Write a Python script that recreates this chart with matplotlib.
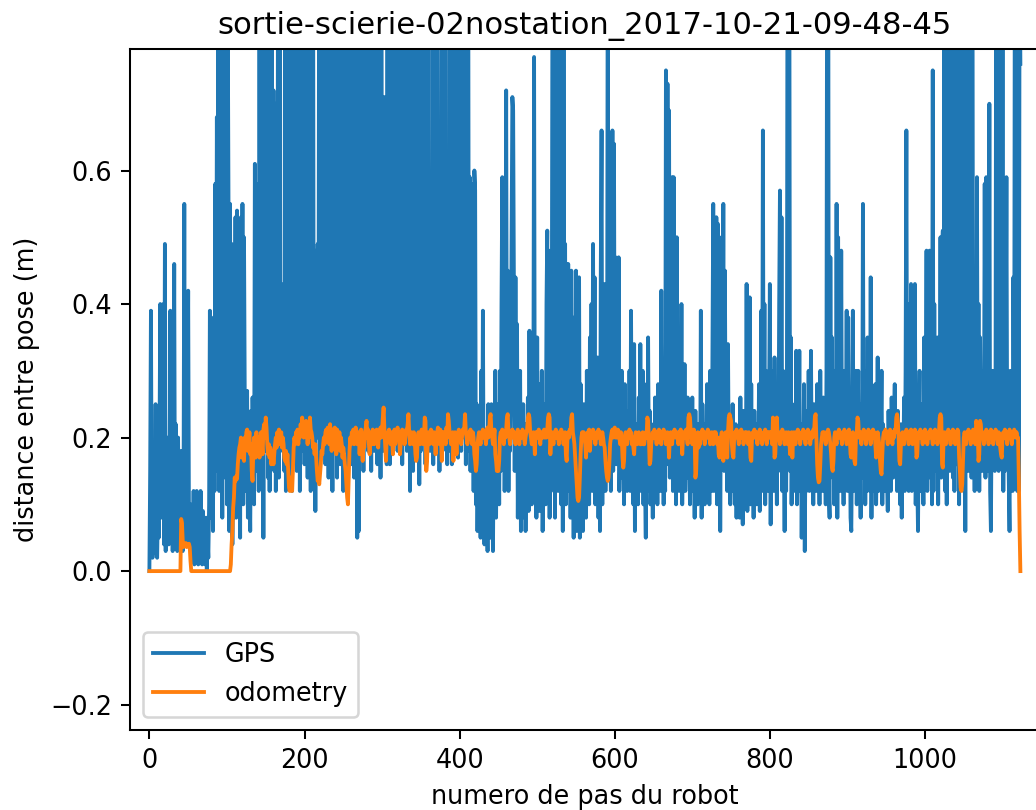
import numpy as np
import matplotlib
matplotlib.use("Agg")
import matplotlib.pyplot as plt

title = "sortie-scierie-02nostation_2017-10-21-09-48-45"
x_label = "numero de pas du robot"
y_label = "distance entre pose (m)"
series_names = ["GPS", "odometry"]

# Distance between consecutive GPS poses, in centimetres (one value per robot step)
gps_cm = [
    0, 15, 39, 8, 2, 6, 12, 4, 25, 3,
    2, 10, 5, 18, 40, 8, 38, 12, 40, 4,
    49, 3, 15, 6, 20, 4, 12, 39, 5, 18,
    3, 10, 46, 4, 22, 10, 3, 20, 6, 14,
    5, 18, 8, 3, 10, 55, 6, 12, 4, 20,
    42, 8, 4, 10, 2, 6, 3, 12, 1, 8,
    2, 12, 5, 1, 10, 3, 12, 4, 1, 9,
    2, 6, 1, 8, 0, 5, 2, 10, 39, 8,
    10, 25, 6, 38, 12, 58, 20, 68, 15, 110,
    12, 95, 20, 130, 8, 120, 25, 88, 14, 105,
    10, 85, 55, 6, 55, 12, 49, 4, 30, 8,
    20, 53, 8, 54, 15, 52, 30, 5, 53, 20,
    55, 10, 50, 25, 18, 12, 27, 8, 22, 15,
    6, 24, 12, 26, 18, 10, 61, 15, 58, 20,
    25, 12, 95, 15, 120, 20, 100, 5, 140, 18,
    110, 22, 90, 14, 130, 12, 105, 20, 85, 16,
    72, 15, 70, 12, 64, 20, 110, 14, 95, 18,
    33, 20, 30, 43, 15, 100, 12, 130, 20, 90,
    14, 115, 22, 88, 12, 140, 18, 95, 25, 120,
    15, 100, 20, 90, 12, 125, 18, 80, 22, 110,
    16, 130, 20, 95, 14, 105, 24, 85, 12, 120,
    18, 100, 14, 48, 9, 45, 20, 49, 25, 110,
    15, 120, 50, 18, 95, 22, 130, 16, 100, 20,
    90, 14, 110, 48, 20, 120, 12, 85, 25, 105,
    18, 95, 14, 140, 22, 100, 16, 90, 20, 115,
    12, 88, 24, 120, 18, 100, 15, 95, 20, 130,
    16, 110, 22, 90, 14, 125, 20, 100, 5, 95,
    6, 120, 18, 105, 25, 90, 15, 130, 20, 100,
    22, 110, 18, 41, 20, 95, 15, 120, 24, 100,
    18, 130, 20, 90, 16, 115, 22, 100, 14, 125,
    20, 70, 18, 71, 22, 68, 16, 105, 20, 95,
    16, 120, 22, 56, 18, 55, 25, 100, 20, 115,
    18, 95, 22, 130, 20, 110, 16, 90, 24, 105,
    20, 120, 18, 100, 22, 58, 12, 57, 20, 125,
    15, 105, 20, 90, 18, 120, 22, 100, 13, 95,
    18, 115, 20, 130, 22, 100, 16, 110, 20, 90,
    24, 50, 18, 49, 20, 120, 16, 100, 22, 95,
    18, 110, 20, 47, 15, 46, 22, 130, 18, 100,
    20, 115, 22, 37, 16, 36, 20, 95, 18, 120,
    16, 105, 20, 36, 18, 35, 22, 110, 17, 100,
    20, 125, 18, 47, 22, 95, 20, 115, 16, 90,
    20, 100, 18, 59, 15, 58, 20, 56, 12, 60,
    57, 10, 25, 6, 18, 8, 22, 5, 30, 10,
    39, 12, 4, 20, 8, 15, 3, 25, 10, 18,
    5, 25, 12, 3, 20, 10, 30, 8, 22, 15,
    25, 10, 30, 15, 40, 59, 20, 55, 12, 30,
    72, 20, 45, 12, 30, 18, 25, 50, 71, 69,
    40, 15, 44, 20, 37, 8, 25, 12, 30, 6,
    20, 8, 25, 10, 22, 6, 18, 12, 26, 9,
    36, 15, 28, 10, 35, 20, 77, 12, 30, 8,
    35, 14, 28, 9, 22, 15, 30, 6, 20, 12,
    25, 10, 40, 51, 15, 48, 8, 30, 12, 45,
    110, 18, 95, 8, 130, 20, 40, 12, 100, 15,
    90, 10, 48, 6, 85, 20, 49, 10, 46, 14,
    46, 12, 40, 8, 45, 15, 30, 5, 38, 10,
    45, 6, 35, 12, 44, 5, 28, 10, 20, 6,
    25, 12, 18, 8, 30, 15, 22, 10, 35, 14,
    40, 12, 49, 18, 44, 10, 30, 14, 32, 8,
    20, 6, 45, 66, 10, 35, 15, 43, 12, 25,
    14, 100, 18, 30, 20, 12, 25, 66, 15, 64,
    20, 47, 16, 37, 22, 47, 12, 25, 18, 30,
    14, 22, 10, 28, 15, 20, 12, 24, 16, 30,
    12, 39, 15, 25, 10, 34, 6, 22, 14, 18,
    10, 26, 15, 34, 12, 20, 30, 10, 22, 14,
    5, 28, 12, 35, 15, 24, 10, 18, 20, 8,
    22, 12, 26, 15, 20, 10, 28, 14, 18, 12,
    42, 15, 20, 10, 18, 12, 75, 20, 73, 16,
    69, 14, 40, 18, 59, 12, 59, 15, 30, 10,
    50, 18, 25, 12, 31, 16, 40, 10, 22, 15,
    31, 12, 22, 15, 26, 14, 20, 10, 18, 16,
    26, 12, 20, 8, 24, 14, 18, 10, 22, 16,
    12, 39, 8, 25, 15, 20, 10, 22, 14, 28,
    15, 25, 10, 30, 18, 12, 35, 55, 12, 40,
    15, 53, 10, 52, 20, 50, 6, 30, 18, 25,
    55, 15, 45, 20, 30, 12, 34, 16, 22, 10,
    18, 12, 25, 15, 20, 10, 22, 8, 18, 14,
    20, 8, 26, 12, 18, 7, 24, 15, 20, 10,
    43, 9, 30, 15, 41, 10, 28, 12, 20, 8,
    24, 12, 18, 10, 22, 15, 28, 9, 20, 39,
    12, 66, 15, 40, 10, 30, 18, 22, 12, 25,
    43, 7, 30, 15, 25, 12, 32, 14, 20, 10,
    28, 15, 40, 57, 18, 53, 12, 30, 20, 6,
    25, 12, 30, 120, 20, 100, 15, 35, 10, 22,
    18, 12, 25, 15, 33, 10, 20, 14, 33, 12,
    22, 5, 18, 10, 28, 3, 20, 12, 24, 15,
    30, 12, 18, 33, 15, 20, 10, 25, 14, 18,
    12, 28, 16, 22, 10, 30, 15, 20, 12, 26,
    14, 22, 10, 30, 110, 130, 12, 8, 47, 20,
    35, 14, 20, 10, 30, 12, 55, 8, 50, 15,
    35, 12, 48, 16, 25, 10, 30, 14, 20, 39,
    12, 38, 15, 25, 8, 6, 20, 39, 12, 22,
    15, 30, 10, 20, 30, 12, 18, 8, 25, 14,
    55, 15, 30, 10, 22, 12, 35, 14, 20, 12,
    44, 8, 25, 15, 20, 12, 28, 10, 18, 32,
    12, 25, 15, 20, 30, 10, 22, 14, 18, 12,
    20, 14, 9, 24, 15, 20, 12, 26, 18, 14,
    22, 28, 15, 20, 12, 24, 16, 18, 10, 22,
    8, 20, 14, 26, 12, 30, 66, 15, 40, 12,
    30, 18, 43, 12, 30, 15, 25, 43, 10, 20,
    14, 6, 22, 30, 12, 25, 15, 20, 10, 35,
    15, 25, 48, 12, 30, 18, 48, 14, 35, 10,
    75, 12, 40, 18, 25, 15, 35, 10, 30, 20,
    50, 14, 48, 51, 20, 90, 12, 120, 10, 100,
    18, 51, 15, 110, 20, 95, 14, 130, 12, 100,
    16, 85, 20, 120, 10, 105, 18, 90, 15, 115,
    12, 100, 6, 130, 18, 95, 15, 110, 20, 88,
    14, 120, 20, 25, 12, 30, 15, 59, 18, 40,
    12, 35, 20, 30, 15, 25, 18, 58, 14, 59,
    20, 40, 15, 70, 12, 6, 25, 30, 18, 25,
    15, 30, 110, 20, 100, 15, 130, 18, 95, 20,
    85, 12, 58, 15, 30, 59, 18, 25, 14, 6,
    30, 15, 25, 12, 44, 20, 110, 15, 130, 12,
    100, 12, 95, 76,
]

# Distance between consecutive odometry poses, in millimetres
odom_mm = [
    0, 0, 0, 0, 0, 0, 0, 0, 0, 0,
    0, 0, 0, 0, 0, 0, 0, 0, 0, 0,
    0, 0, 0, 0, 0, 0, 0, 0, 0, 0,
    0, 0, 0, 0, 0, 0, 0, 0, 0, 0,
    0, 78, 72, 45, 36, 40, 38, 42, 36, 40,
    38, 41, 36, 15, 0, 0, 0, 0, 0, 0,
    0, 0, 0, 0, 0, 0, 0, 0, 0, 0,
    0, 0, 0, 0, 0, 0, 0, 0, 0, 0,
    0, 0, 0, 0, 0, 0, 0, 0, 0, 0,
    0, 0, 0, 0, 0, 0, 0, 0, 0, 0,
    0, 0, 0, 0, 0, 10, 40, 60, 95, 110,
    140, 135, 142, 138, 160, 175, 185, 190, 200, 170,
    185, 190, 165, 200, 190, 208, 212, 180, 190, 208,
    175, 190, 150, 135, 180, 200, 190, 170, 208, 190,
    180, 200, 170, 185, 208, 190, 175, 212, 220, 200,
    230, 215, 190, 175, 190, 170, 185, 160, 165, 180,
    160, 175, 190, 200, 185, 208, 190, 212, 190, 200,
    208, 185, 200, 190, 170, 165, 180, 160, 175, 150,
    125, 120, 140, 125, 120, 150, 185, 200, 190, 208,
    200, 212, 190, 208, 200, 220, 208, 230, 212, 200,
    215, 208, 225, 212, 190, 220, 200, 230, 212, 208,
    200, 185, 190, 175, 190, 170, 150, 135, 140, 130,
    145, 160, 180, 175, 190, 200, 190, 208, 212, 200,
    215, 208, 190, 220, 200, 180, 212, 208, 190, 215,
    200, 175, 212, 190, 185, 208, 180, 200, 190, 170,
    185, 175, 160, 150, 130, 110, 100, 140, 180, 200,
    190, 208, 200, 212, 190, 200, 215, 208, 190, 200,
    208, 175, 200, 212, 190, 165, 200, 185, 208, 215,
    225, 200, 212, 190, 175, 200, 208, 190, 212, 200,
    190, 208, 200, 212, 200, 185, 208, 200, 215, 200,
    212, 230, 245, 212, 190, 165, 200, 208, 200, 212,
    200, 190, 208, 200, 175, 200, 212, 190, 200, 208,
    215, 200, 208, 175, 190, 200, 212, 200, 208, 190,
    200, 212, 208, 220, 235, 208, 190, 200, 208, 200,
    190, 208, 200, 175, 165, 170, 200, 208, 200, 190,
    200, 212, 208, 190, 200, 230, 225, 150, 165, 200,
    208, 190, 200, 212, 208, 200, 190, 208, 200, 175,
    200, 208, 215, 200, 190, 212, 200, 165, 208, 200,
    208, 200, 190, 215, 200, 235, 225, 208, 200, 190,
    200, 208, 165, 200, 208, 200, 175, 200, 208, 212,
    200, 208, 190, 200, 212, 208, 215, 235, 208, 200,
    190, 200, 208, 200, 212, 200, 190, 208, 200, 175,
    165, 150, 160, 190, 200, 208, 200, 190, 208, 200,
    212, 200, 208, 200, 190, 212, 215, 200, 208, 230,
    235, 208, 200, 190, 200, 212, 175, 165, 150, 155,
    150, 165, 200, 208, 200, 212, 200, 190, 208, 200,
    212, 230, 235, 208, 200, 190, 208, 200, 212, 200,
    208, 200, 190, 200, 208, 212, 200, 190, 208, 200,
    200, 212, 208, 200, 190, 200, 208, 212, 230, 235,
    230, 208, 200, 190, 200, 208, 200, 175, 208, 200,
    208, 200, 212, 200, 190, 208, 200, 208, 200, 212,
    200, 208, 200, 212, 230, 235, 230, 175, 200, 208,
    200, 190, 208, 200, 212, 200, 208, 200, 190, 208,
    200, 212, 208, 200, 190, 200, 208, 175, 165, 200,
    208, 200, 212, 208, 230, 235, 208, 200, 190, 170,
    150, 130, 110, 105, 110, 140, 175, 200, 208, 200,
    208, 200, 190, 170, 200, 208, 200, 212, 180, 200,
    208, 200, 212, 208, 200, 190, 200, 208, 200, 212,
    200, 208, 190, 200, 208, 200, 190, 185, 165, 150,
    140, 135, 140, 160, 190, 200, 208, 212, 200, 208,
    215, 200, 208, 200, 212, 208, 200, 190, 208, 200,
    170, 155, 165, 200, 208, 200, 190, 208, 200, 212,
    200, 208, 190, 200, 185, 175, 200, 208, 200, 190,
    200, 208, 200, 190, 190, 200, 208, 190, 190, 200,
    208, 200, 230, 225, 200, 160, 165, 190, 200, 208,
    200, 212, 208, 200, 190, 208, 200, 212, 208, 200,
    190, 208, 200, 212, 200, 208, 190, 200, 208, 200,
    170, 200, 208, 200, 190, 208, 200, 212, 208, 200,
    208, 200, 190, 208, 200, 212, 200, 175, 200, 208,
    200, 208, 212, 200, 190, 230, 235, 230, 208, 200,
    190, 200, 212, 200, 140, 150, 190, 208, 185, 200,
    190, 208, 200, 212, 200, 208, 190, 200, 208, 200,
    212, 200, 208, 190, 200, 208, 200, 190, 208, 200,
    208, 200, 190, 200, 175, 170, 175, 200, 208, 170,
    165, 175, 200, 208, 200, 170, 208, 230, 235, 230,
    225, 190, 175, 170, 200, 208, 200, 212, 208, 200,
    190, 208, 200, 212, 200, 208, 190, 200, 208, 200,
    208, 200, 190, 208, 200, 170, 165, 200, 208, 200,
    212, 200, 208, 200, 190, 208, 200, 212, 208, 200,
    190, 200, 208, 200, 212, 200, 190, 208, 200, 208,
    200, 208, 200, 190, 230, 225, 170, 175, 208, 230,
    200, 208, 200, 190, 208, 200, 212, 208, 200, 190,
    200, 208, 200, 190, 208, 200, 175, 200, 208, 170,
    200, 208, 200, 190, 208, 200, 212, 208, 200, 190,
    200, 208, 200, 212, 208, 200, 190, 208, 200, 212,
    200, 208, 190, 200, 208, 200, 212, 208, 230, 235,
    200, 160, 140, 133, 135, 160, 190, 200, 208, 200,
    208, 200, 190, 208, 200, 212, 208, 200, 190, 175,
    155, 150, 165, 200, 208, 200, 190, 208, 200, 212,
    200, 208, 200, 190, 208, 200, 212, 208, 200, 190,
    208, 200, 212, 200, 175, 170, 200, 208, 200, 165,
    160, 200, 208, 230, 225, 200, 208, 200, 190, 208,
    200, 212, 208, 200, 190, 208, 200, 212, 208, 200,
    190, 208, 200, 212, 200, 208, 190, 170, 200, 208,
    200, 190, 165, 150, 145, 175, 200, 208, 200, 212,
    208, 200, 190, 208, 200, 212, 208, 200, 190, 208,
    200, 212, 208, 230, 235, 225, 200, 165, 160, 190,
    200, 208, 200, 190, 208, 200, 212, 208, 200, 190,
    208, 200, 212, 200, 190, 208, 200, 212, 208, 170,
    175, 200, 208, 200, 212, 208, 200, 190, 208, 200,
    212, 200, 208, 190, 200, 208, 200, 212, 208, 200,
    190, 208, 200, 212, 200, 208, 190, 200, 208, 230,
    235, 230, 160, 155, 200, 208, 200, 190, 208, 200,
    212, 208, 200, 190, 208, 200, 212, 208, 200, 190,
    208, 200, 212, 208, 170, 150, 125, 120, 130, 165,
    200, 208, 200, 190, 208, 200, 212, 208, 200, 190,
    208, 200, 212, 208, 200, 190, 225, 220, 208, 165,
    175, 225, 220, 200, 208, 200, 190, 208, 200, 212,
    208, 200, 190, 208, 200, 212, 208, 200, 190, 208,
    200, 212, 208, 200, 190, 208, 200, 185, 175, 170,
    200, 208, 200, 212, 208, 200, 190, 208, 200, 212,
    208, 200, 190, 208, 200, 212, 208, 200, 208, 200,
    200, 140, 60, 0,
]

gps = np.array(gps_cm, dtype=float) / 100.0
odometry = np.array(odom_mm, dtype=float) / 1000.0

DPI = 184
fig = plt.figure(figsize=(1036 / DPI, 810 / DPI), dpi=DPI)
ax = fig.add_axes([130 / 1036, 80 / 810, 909 / 1036, 681 / 810])

ax.plot(np.arange(len(gps)), gps, label=series_names[0])
ax.plot(np.arange(len(odometry)), odometry, label=series_names[1])

ax.set_xlim(-25, 1147)
ax.set_ylim(-0.238, 0.782)
ax.set_title(title)
ax.set_xlabel(x_label)
ax.set_ylabel(y_label)
ax.legend(loc="lower left")

fig.savefig("out.png", dpi=DPI)
